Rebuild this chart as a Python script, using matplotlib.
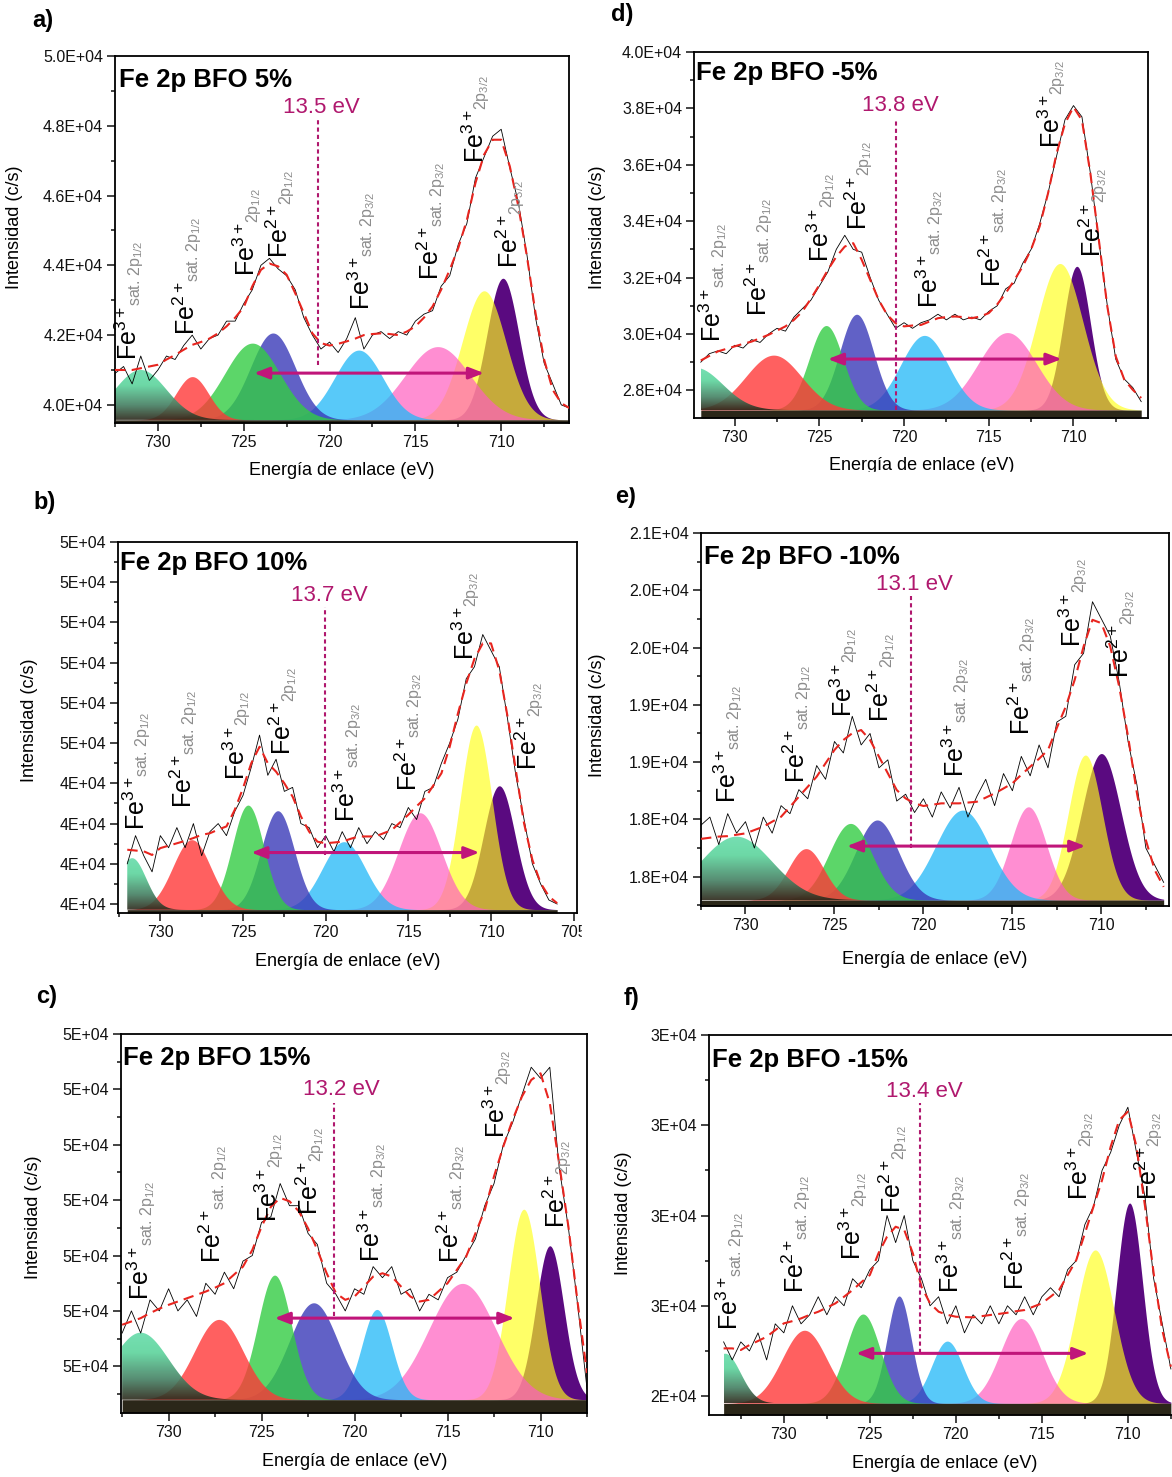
import numpy as np
import matplotlib.pyplot as plt
from matplotlib.colors import LinearSegmentedColormap
from matplotlib.patches import Rectangle
from matplotlib.ticker import FixedLocator, FixedFormatter, MultipleLocator, AutoMinorLocator

plt.rcParams['font.family'] = ['Liberation Sans', 'DejaVu Sans']
plt.rcParams['mathtext.fontset'] = 'custom'
plt.rcParams['mathtext.rm'] = 'Liberation Sans'
plt.rcParams['mathtext.it'] = 'Liberation Sans:italic'
plt.rcParams['mathtext.bf'] = 'Liberation Sans:bold'

# ------------------------------------------------------------------
# values, intensities in units of 1E+04 c/s
# ------------------------------------------------------------------
ions = [r'Fe$^{\mathregular{3+}}$', r'Fe$^{\mathregular{2+}}$', r'Fe$^{\mathregular{3+}}$', r'Fe$^{\mathregular{2+}}$',
        r'Fe$^{\mathregular{3+}}$', r'Fe$^{\mathregular{2+}}$', r'Fe$^{\mathregular{3+}}$', r'Fe$^{\mathregular{2+}}$']
orbitals = [r'sat. 2p$_{\mathregular{1/2}}$', r'sat. 2p$_{\mathregular{1/2}}$', r'2p$_{\mathregular{1/2}}$', r'2p$_{\mathregular{1/2}}$',
            r'sat. 2p$_{\mathregular{3/2}}$', r'sat. 2p$_{\mathregular{3/2}}$', r'2p$_{\mathregular{3/2}}$', r'2p$_{\mathregular{3/2}}$']

# --- a) BFO 5% ---
ev_a = np.linspace(732.5, 706.0, 54)
counts_a = [4.09, 4.11, 4.06, 4.14, 4.07, 4.10, 4.14, 4.13, 4.17, 4.20,
            4.16, 4.19, 4.20, 4.24, 4.24, 4.29, 4.33, 4.40, 4.42, 4.39,
            4.37, 4.33, 4.25, 4.20, 4.16, 4.18, 4.15, 4.19, 4.25, 4.16,
            4.20, 4.21, 4.19, 4.21, 4.20, 4.24, 4.26, 4.27, 4.34, 4.37,
            4.46, 4.52, 4.65, 4.71, 4.77, 4.79, 4.68, 4.58, 4.43, 4.25,
            4.12, 4.06, 4.00, 3.99]
fit_a = [4.10, 4.10, 4.10, 4.105, 4.11, 4.115, 4.13, 4.143, 4.158, 4.172,
         4.18, 4.19, 4.205, 4.225, 4.25, 4.28, 4.34, 4.387, 4.405, 4.397,
         4.373, 4.32, 4.263, 4.205, 4.177, 4.17, 4.175, 4.182, 4.19, 4.20,
         4.203, 4.205, 4.203, 4.20, 4.21, 4.225, 4.25, 4.282, 4.33, 4.387,
         4.45, 4.53, 4.636, 4.717, 4.76, 4.76, 4.684, 4.569, 4.425, 4.263,
         4.13, 4.043, 4.005, 3.99]
center_a = [731.0, 728.0, 724.5, 723.3, 718.3, 713.7, 711.0, 709.9]
height_a = [0.143, 0.124, 0.22, 0.249, 0.20, 0.21, 0.37, 0.406]
sigma_a = [1.5, 0.95, 1.6, 1.3, 1.4, 1.9, 1.27, 0.93]
base_a = 3.957

# --- d) BFO -5% ---
ev_d = np.linspace(732.0, 706.0, 53)
counts_d = [2.90, 2.93, 2.94, 2.93, 2.96, 2.95, 2.98, 2.97, 3.00, 3.02,
            3.01, 3.06, 3.09, 3.12, 3.17, 3.22, 3.30, 3.35, 3.30, 3.29,
            3.20, 3.12, 3.07, 3.02, 3.04, 3.02, 3.04, 3.05, 3.07, 3.05,
            3.07, 3.05, 3.06, 3.05, 3.08, 3.10, 3.16, 3.18, 3.25, 3.30,
            3.39, 3.50, 3.63, 3.76, 3.81, 3.77, 3.57, 3.33, 3.10, 2.91,
            2.84, 2.81, 2.76]
fit_d = [2.906, 2.922, 2.938, 2.947, 2.956, 2.965, 2.973, 2.985, 2.997, 3.012,
         3.027, 3.05, 3.08, 3.125, 3.174, 3.227, 3.274, 3.31, 3.322, 3.263,
         3.192, 3.121, 3.068, 3.038, 3.027, 3.03, 3.032, 3.044, 3.056, 3.06,
         3.062, 3.06, 3.056, 3.062, 3.074, 3.105, 3.145, 3.19, 3.239, 3.30,
         3.381, 3.499, 3.64, 3.746, 3.805, 3.758, 3.569, 3.333, 3.097, 2.92,
         2.838, 2.802, 2.773]
center_d = [732.3, 727.7, 724.6, 722.8, 718.8, 713.9, 710.8, 709.8]
height_d = [0.15, 0.195, 0.30, 0.34, 0.265, 0.275, 0.52, 0.51]
sigma_d = [1.6, 1.65, 1.0, 1.0, 1.4, 1.7, 1.35, 0.8]
base_d = 2.73

# --- b) BFO 10% ---
ev_b = np.linspace(732.0, 706.0, 53)
counts_b = [4.20, 4.27, 4.22, 4.18, 4.27, 4.24, 4.29, 4.24, 4.30, 4.22,
            4.28, 4.30, 4.27, 4.33, 4.37, 4.44, 4.52, 4.42, 4.46, 4.38,
            4.39, 4.30, 4.29, 4.24, 4.27, 4.23, 4.28, 4.24, 4.29, 4.25,
            4.28, 4.26, 4.30, 4.29, 4.34, 4.31, 4.38, 4.39, 4.45, 4.50,
            4.56, 4.66, 4.69, 4.77, 4.73, 4.69, 4.56, 4.42, 4.31, 4.20,
            4.15, 4.11, 4.10]
fit_b = [4.235, 4.233, 4.231, 4.222, 4.239, 4.245, 4.251, 4.257, 4.264, 4.272,
         4.276, 4.285, 4.293, 4.334, 4.388, 4.45, 4.491, 4.45, 4.429, 4.40,
         4.367, 4.318, 4.28, 4.255, 4.251, 4.253, 4.255, 4.262, 4.268, 4.268,
         4.268, 4.276, 4.284, 4.303, 4.322, 4.343, 4.363, 4.394, 4.425, 4.491,
         4.574, 4.648, 4.71, 4.748, 4.748, 4.681, 4.566, 4.433, 4.30, 4.21,
         4.152, 4.119, 4.102]
center_b = [731.7, 728.1, 724.7, 722.9, 718.9, 714.3, 710.9, 709.5]
height_b = [0.128, 0.174, 0.26, 0.246, 0.169, 0.241, 0.459, 0.308]
sigma_b = [0.85, 1.15, 0.95, 1.0, 1.3, 1.3, 0.95, 0.95]
base_b = 4.086

# --- e) BFO -10% ---
ev_e = np.linspace(732.5, 706.5, 53)
counts_e = [1.845, 1.852, 1.828, 1.855, 1.838, 1.848, 1.825, 1.852, 1.838, 1.862,
            1.855, 1.876, 1.868, 1.897, 1.885, 1.918, 1.908, 1.94, 1.915, 1.925,
            1.895, 1.902, 1.866, 1.872, 1.856, 1.868, 1.852, 1.874, 1.86, 1.878,
            1.852, 1.87, 1.885, 1.862, 1.89, 1.875, 1.905, 1.888, 1.915, 1.895,
            1.935, 1.94, 1.985, 1.995, 2.04, 2.025, 2.01, 1.97, 1.918, 1.88,
            1.825, 1.81, 1.795]
fit_e = [1.833, 1.834, 1.835, 1.8354, 1.8366, 1.8378, 1.8407, 1.8436, 1.848, 1.8523,
         1.861, 1.8698, 1.8785, 1.8873, 1.899, 1.9106, 1.9193, 1.9252, 1.928, 1.9193,
         1.9048, 1.8902, 1.8756, 1.8683, 1.864, 1.8617, 1.8628, 1.864, 1.864, 1.864,
         1.8647, 1.8654, 1.869, 1.8727, 1.877, 1.8815, 1.889, 1.896, 1.903, 1.9106,
         1.93, 1.9485, 1.9718, 2.0009, 2.0242, 2.0213, 2.0009, 1.966, 1.9223, 1.8727,
         1.8319, 1.8057, 1.7911]
center_e = [730.5, 726.6, 724.1, 722.6, 717.8, 714.1, 710.9, 710.0]
height_e = [0.0554, 0.045, 0.067, 0.07, 0.0786, 0.0815, 0.1267, 0.128]
sigma_e = [2.0, 1.0, 1.2, 1.2, 1.5, 1.0, 0.95, 1.1]
base_e = 1.7795

# --- c) BFO 15% ---
ev_c = np.linspace(732.5, 707.5, 51)
counts_c = [4.66, 4.70, 4.66, 4.72, 4.70, 4.74, 4.70, 4.72, 4.69, 4.75,
            4.73, 4.77, 4.74, 4.79, 4.80, 4.86, 4.87, 4.93, 4.89, 4.89,
            4.84, 4.82, 4.75, 4.73, 4.70, 4.74, 4.73, 4.78, 4.76, 4.78,
            4.73, 4.74, 4.70, 4.73, 4.72, 4.76, 4.77, 4.80, 4.83, 4.89,
            4.93, 5.00, 5.04, 5.09, 5.14, 5.12, 5.14, 4.96, 4.85, 4.71,
            4.56]
fit_c = [4.675, 4.681, 4.687, 4.696, 4.704, 4.711, 4.717, 4.723, 4.729, 4.735,
         4.742, 4.75, 4.765, 4.78, 4.81, 4.852, 4.888, 4.904, 4.898, 4.88,
         4.849, 4.81, 4.768, 4.732, 4.72, 4.726, 4.744, 4.762, 4.768, 4.762,
         4.744, 4.726, 4.717, 4.72, 4.735, 4.75, 4.774, 4.798, 4.84, 4.882,
         4.943, 4.997, 5.045, 5.087, 5.117, 5.129, 5.075, 4.967, 4.852, 4.714,
         4.588]
center_c = [731.5, 727.3, 724.3, 722.2, 718.8, 714.2, 710.9, 709.5]
height_c = [0.121, 0.145, 0.225, 0.175, 0.163, 0.21, 0.344, 0.278]
sigma_c = [1.5, 1.3, 0.9, 1.3, 0.8, 1.8, 0.85, 0.75]
base_c = 4.5397

# --- f) BFO -15% ---
ev_f = np.linspace(733.5, 707.5, 53)
counts_f = [2.46, 2.44, 2.46, 2.45, 2.47, 2.44, 2.48, 2.47, 2.50, 2.48,
            2.49, 2.51, 2.49, 2.51, 2.50, 2.53, 2.52, 2.54, 2.55, 2.60,
            2.57, 2.60, 2.55, 2.53, 2.50, 2.51, 2.48, 2.50, 2.47, 2.49,
            2.48, 2.50, 2.48, 2.50, 2.49, 2.51, 2.49, 2.51, 2.52, 2.51,
            2.54, 2.55, 2.59, 2.61, 2.65, 2.67, 2.70, 2.72, 2.67, 2.62,
            2.53, 2.48, 2.43]
fit_f = [2.4528, 2.4528, 2.451, 2.4565, 2.461, 2.4657, 2.473, 2.4805, 2.483, 2.486,
         2.49, 2.4934, 2.498, 2.5027, 2.51, 2.5175, 2.526, 2.5341, 2.5581, 2.5766,
         2.5876, 2.584, 2.5581, 2.5211, 2.5027, 2.4934, 2.49, 2.4879, 2.4875, 2.4872,
         2.4885, 2.4898, 2.491, 2.4923, 2.494, 2.4953, 2.499, 2.5027, 2.51, 2.5175,
         2.534, 2.5507, 2.5802, 2.6098, 2.6393, 2.6763, 2.7058, 2.7151, 2.6763, 2.6098,
         2.5359, 2.4731, 2.4325]
center_f = [733.4, 728.8, 725.4, 723.3, 720.5, 716.2, 711.9, 709.9]
height_f = [0.055, 0.081, 0.099, 0.119, 0.069, 0.094, 0.17, 0.222]
sigma_f = [0.9, 1.3, 1.0, 0.7, 0.9, 1.2, 1.1, 0.75]
base_f = 2.3919

# y tick values and their printed labels
yt_a = [4.0, 4.2, 4.4, 4.6, 4.8, 5.0]
yl_a = ['4.0E+04', '4.2E+04', '4.4E+04', '4.6E+04', '4.8E+04', '5.0E+04']
yt_d = [2.8, 3.0, 3.2, 3.4, 3.6, 3.8, 4.0]
yl_d = ['2.8E+04', '3.0E+04', '3.2E+04', '3.4E+04', '3.6E+04', '3.8E+04', '4.0E+04']
yt_b = [4.1, 4.2, 4.3, 4.4, 4.5, 4.6, 4.7, 4.8, 4.9, 5.0]
yl_b = ['4E+04'] * 4 + ['5E+04'] * 6
yt_e = [1.8, 1.85, 1.9, 1.95, 2.0, 2.05, 2.1]
yl_e = ['1.8E+04', '1.8E+04', '1.9E+04', '1.9E+04', '2.0E+04', '2.0E+04', '2.1E+04']
yt_c = [4.6, 4.7, 4.8, 4.9, 5.0, 5.1, 5.2]
yl_c = ['5E+04'] * 7
yt_f = [2.4, 2.5, 2.6, 2.7, 2.8]
yl_f = ['2E+04', '3E+04', '3E+04', '3E+04', '3E+04']

# ------------------------------------------------------------------
# layout (pixels of the 1172x1477 figure) and annotation placement
# ------------------------------------------------------------------
W, H = 1172, 1477
def fx(px):
    return px / W
def fy(py):
    return 1 - py / H

panels = [
    dict(tag='a)', name='Fe 2p BFO 5%', gap='13.5 eV', ev=ev_a, counts=counts_a, fit=fit_a,
         c=center_a, h=height_a, s=sigma_a, base=base_a, yt=yt_a, yl=yl_a,
         box=(115, 56, 569, 423), xlim=(732.5, 706.05), ylim=(3.948, 5.0),
         letter=(43, 20), title=(119, 80), ylab=(15, 227), xlab=(342, 470),
         vline=(720.7, 4.115, 4.822), gtxt=(720.5, 4.851), arrow=(724.4, 711.0, 4.091),
         labels=[(731.7, 4.129), (728.3, 4.20), (724.8, 4.368), (722.9, 4.42),
                 (718.15, 4.272), (714.1, 4.358), (711.5, 4.693), (709.5, 4.392)]),
    dict(tag='d)', name='Fe 2p BFO -5%', gap='13.8 eV', ev=ev_d, counts=counts_d, fit=fit_d,
         c=center_d, h=height_d, s=sigma_d, base=base_d, yt=yt_d, yl=yl_d,
         box=(694, 52, 1148, 418), xlim=(732.4, 705.6), ylim=(2.702, 4.0),
         letter=(622, 15), title=(696, 73), ylab=(597, 227), xlab=(922, 465),
         vline=(720.5, 2.73, 3.758), gtxt=(720.2, 3.811), arrow=(724.5, 710.7, 2.911),
         labels=[(731.3, 2.973), (728.6, 3.062), (724.9, 3.257), (722.7, 3.369),
                 (718.5, 3.091), (714.75, 3.168), (711.3, 3.658), (708.85, 3.274)]),
    dict(tag='b)', name='Fe 2p BFO 10%', gap='13.7 eV', ev=ev_b, counts=counts_b, fit=fit_b,
         c=center_b, h=height_b, s=sigma_b, base=base_b, yt=yt_b, yl=yl_b,
         box=(118, 542, 577, 913), xlim=(732.56, 704.8), ylim=(4.0777, 5.0),
         letter=(45, 503), title=(120, 563), ylab=(30, 720), xlab=(348, 962),
         vline=(720.06, 4.222, 4.839), gtxt=(719.8, 4.868), arrow=(724.5, 710.7, 4.228),
         labels=[(731.44, 4.284), (728.6, 4.338), (725.4, 4.409), (722.6, 4.47),
                 (718.7, 4.305), (715.0, 4.38), (711.55, 4.706), (707.7, 4.433)]),
    dict(tag='e)', name='Fe 2p BFO -10%', gap='13.1 eV', ev=ev_e, counts=counts_e, fit=fit_e,
         c=center_e, h=height_e, s=sigma_e, base=base_e, yt=yt_e, yl=yl_e,
         box=(701, 533, 1169, 906), xlim=(732.5, 706.2), ylim=(1.7744, 2.1),
         letter=(626, 497), title=(704, 557), ylab=(597, 715), xlab=(935, 960),
         vline=(720.7, 1.8246, 2.0446), gtxt=(720.5, 2.0548), arrow=(724.3, 710.9, 1.8267),
         labels=[(731.0, 1.864), (727.1, 1.8815), (724.5, 1.9397), (722.4, 1.9354),
                 (718.2, 1.8873), (714.5, 1.9237), (711.6, 2.0009), (708.9, 1.9733)]),
    dict(tag='c)', name='Fe 2p BFO 15%', gap='13.2 eV', ev=ev_c, counts=counts_c, fit=fit_c,
         c=center_c, h=height_c, s=sigma_c, base=base_c, yt=yt_c, yl=yl_c,
         box=(121, 1034, 587, 1413), xlim=(732.56, 707.5), ylim=(4.5157, 5.2),
         letter=(47, 996), title=(123, 1058), ylab=(34, 1217), xlab=(355, 1462),
         vline=(721.1, 4.69, 5.075), gtxt=(720.7, 5.099), arrow=(724.3, 711.4, 4.687),
         labels=[(731.5, 4.72), (727.6, 4.786), (724.6, 4.861), (722.4, 4.873),
                 (719.05, 4.789), (714.8, 4.786), (712.35, 5.012), (709.1, 4.849)]),
    dict(tag='f)', name='Fe 2p BFO -15%', gap='13.4 eV', ev=ev_f, counts=counts_f, fit=fit_f,
         c=center_f, h=height_f, s=sigma_f, base=base_f, yt=yt_f, yl=yl_f,
         box=(709, 1035, 1180, 1415), xlim=(734.35, 706.97), ylim=(2.379, 2.8),
         letter=(632, 998), title=(712, 1060), ylab=(623, 1213), xlab=(945, 1463),
         vline=(722.1, 2.4473, 2.7243), gtxt=(721.85, 2.7372), arrow=(725.8, 712.3, 2.4473),
         labels=[(733.15, 2.4731), (729.3, 2.5138), (726.0, 2.5507), (723.65, 2.6024),
                 (720.3, 2.5138), (716.5, 2.5175), (712.8, 2.6172), (708.8, 2.6172)]),
]

# peak fill styles: mint, red, green, blue, sky, pink, yellow, purple
peak_colors = ['#62dba6', '#ff3838', '#33cc44', '#3a3ab8', '#20b8f8', '#ff5fbf', '#ffff18', '#5a0a80']
peak_alpha = [0.9, 0.8, 0.8, 0.8, 0.75, 0.7, 0.66, 1.0]
mint_cmap = LinearSegmentedColormap.from_list(
    'mint', [(0, '#2b2719'), (0.3, '#447f62'), (0.7, '#5cd49c'), (1, '#66dcaa')])
magenta = '#b0186e'

fig = plt.figure(figsize=(W / 100, H / 100), dpi=100)

for p in panels:
    l, t, r, b = p['box']
    ax = fig.add_axes([fx(l), fy(b), fx(r) - fx(l), fy(t) - fy(b)])
    ev = p['ev']
    xx = np.linspace(ev[0], ev[-1], 600)
    base = p['base']

    # dark background strip under the components
    ax.fill_between(xx, p['ylim'][0], base, color='#2b2719', lw=0, zorder=2.5)

    # gaussian components, right-most first so left ones sit on top
    for i in reversed(range(8)):
        g = p['h'][i] * np.exp(-0.5 * ((xx - p['c'][i]) / p['s'][i]) ** 2)
        if i == 0:
            poly = ax.fill_between(xx, base, base + g, facecolor='none', lw=0)
            im = ax.imshow(np.linspace(0, 1, 128).reshape(-1, 1), cmap=mint_cmap,
                           aspect='auto', origin='lower', alpha=peak_alpha[0],
                           extent=(xx[0], xx[-1], base, base + g.max()), zorder=2.2)
            im.set_clip_path(poly.get_paths()[0], ax.transData)
        else:
            ax.fill_between(xx, base, base + g, color=peak_colors[i],
                            alpha=peak_alpha[i], lw=0, zorder=2)

    ax.plot(ev, p['counts'], color='k', lw=0.6, zorder=4)
    ax.plot(ev, p['fit'], color='#e8251f', lw=1.5, dashes=(5, 3), zorder=5)

    vx, vy0, vy1 = p['vline']
    ax.plot([vx, vx], [vy0, vy1], color=magenta, lw=1.5, ls=(0, (2, 1.5)), zorder=5)
    ax.text(p['gtxt'][0], p['gtxt'][1], p['gap'], color=magenta, fontsize=16,
            ha='center', va='center', zorder=7)
    ax0, ax1, ay = p['arrow']
    ax.annotate('', xy=(ax1, ay), xytext=(ax0, ay), zorder=6,
                arrowprops=dict(arrowstyle='<|-|>,head_length=0.9,head_width=0.35',
                                color='#c0157a', lw=2.2, shrinkA=0, shrinkB=0))

    for (lx, ly), ion, orb in zip(p['labels'], ions, orbitals):
        tx = ax.text(lx, ly, ion, rotation=90, ha='center', va='bottom',
                     fontsize=18, color='k', zorder=8)
        ax.annotate(orb, xy=(1, 1), xycoords=tx, xytext=(2, 0),
                    textcoords='offset points', rotation=90, ha='right',
                    va='bottom', fontsize=11.5, color='#8c8c8c', zorder=8,
                    annotation_clip=False)

    ax.set_xlim(*p['xlim'])
    ax.set_ylim(*p['ylim'])
    ax.xaxis.set_major_locator(MultipleLocator(5))
    ax.xaxis.set_minor_locator(MultipleLocator(2.5))
    ax.yaxis.set_major_locator(FixedLocator(p['yt']))
    ax.yaxis.set_major_formatter(FixedFormatter(p['yl']))
    ax.yaxis.set_minor_locator(AutoMinorLocator(2))
    ax.tick_params(which='both', direction='out', top=False, right=False,
                   labelsize=11.5, width=1.1, colors='#111111')
    ax.tick_params(which='major', length=5.5, pad=3)
    ax.tick_params(which='minor', length=3)
    for sp in ax.spines.values():
        sp.set_linewidth(1.3)

    fig.text(fx(p['title'][0]), fy(p['title'][1]), p['name'], fontsize=18.5,
             fontweight='bold', ha='left', va='center', zorder=9)
    fig.text(fx(p['letter'][0]), fy(p['letter'][1]), p['tag'], fontsize=17,
             fontweight='bold', ha='center', va='center')
    fig.text(fx(p['ylab'][0]), fy(p['ylab'][1]), 'Intensidad (c/s)', fontsize=13,
             rotation=90, ha='center', va='center')
    fig.text(fx(p['xlab'][0]), fy(p['xlab'][1]), 'Energía de enlace (eV)', fontsize=13,
             ha='center', va='center')

# the source panels were cropped at these edges
fig.patches.append(Rectangle((fx(582), fy(948)), fx(598) - fx(582), fy(918) - fy(948),
                             transform=fig.transFigure, color='white', zorder=20))
fig.patches.append(Rectangle((fx(600), fy(486)), fx(1172) - fx(600), fy(472) - fy(486),
                             transform=fig.transFigure, color='white', zorder=20))

fig.savefig('out.png', dpi=100)
